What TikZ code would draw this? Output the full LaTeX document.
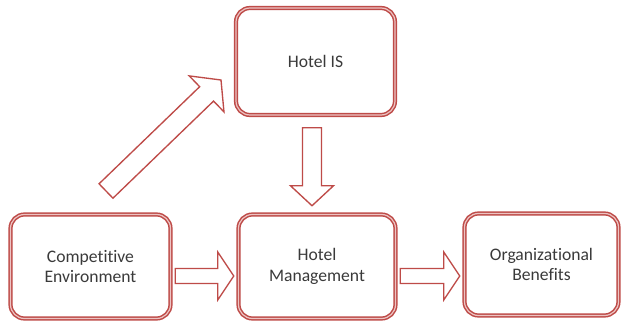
\documentclass[tikz,border=0pt]{standalone}
\usepackage{fontspec}
\setmainfont{Carlito}[Ligatures=NoCommon]
\usetikzlibrary{calc}
\definecolor{boxred}{HTML}{BE4B48}
\definecolor{boxpink}{HTML}{EDC4C3}
\definecolor{labelgray}{HTML}{3A3A3A}
% Block arrow from tail coordinate #1 to tip coordinate #2:
% #3 head length, #4 half shaft width, #5 half head width
\newcommand\blockarrow[5]{%
  \coordinate (#1-hb) at ($(#2)!#3!(#1)$);
  \draw[barrow] ($(#1)!#4!90:(#2)$) -- ($(#1-hb)!#4!-90:(#1)$)
    -- ($(#1-hb)!#5!-90:(#1)$) -- (#2) -- ($(#1-hb)!#5!90:(#1)$)
    -- ($(#1-hb)!#4!90:(#1)$) -- ($(#1)!#4!-90:(#2)$) -- cycle;}
\begin{document}
\begin{tikzpicture}[x=1pt,y=1pt,
  stage/.style={draw=boxred, double=boxpink, line width=1.5pt,
    double distance=1.2pt, rounded corners=14pt, fill=white,
    align=center, text=labelgray, font=\fontsize{17.6}{20.5}\selectfont},
  barrow/.style={draw=boxred, line width=1.35pt, fill=white, line join=miter}]
\useasboundingbox (0,0) rectangle (624,324);

% stages
\node[stage, minimum width=159pt, minimum height=107pt] (is) at (315.5,262.5) {Hotel IS};
\node[stage, minimum width=160pt, minimum height=104pt] (ce) at (90.5,57.5) {Competitive\\Environment};
\node[stage, minimum width=157pt, minimum height=104pt] (hm) at (317,57.5) {Hotel\\Management};
\node[stage, minimum width=154pt, minimum height=102pt] (ob) at (541.5,59.5) {Organizational\\Benefits};

% arrow end points
\coordinate (a1) at ($(ce.east)+(4,-9.5)$);
\coordinate (b1) at ($(hm.west)+(-4,-9.5)$);
\coordinate (a2) at ($(hm.east)+(4,-9.5)$);
\coordinate (b2) at ($(ob.west)+(-4,-11.5)$);
\coordinate (a3) at ($(is.south)+(-3.5,-12)$);
\coordinate (b3) at ($(hm.north)+(-5,8)$);
\coordinate (a4) at (106,133);
\coordinate (b4) at (221,244);

% block arrows
\blockarrow{a1}{b1}{16pt}{7.5pt}{24pt}
\blockarrow{a2}{b2}{16pt}{7.5pt}{24pt}
\blockarrow{a3}{b3}{20pt}{9.5pt}{21.5pt}
\blockarrow{a4}{b4}{20pt}{10pt}{25pt}
\end{tikzpicture}
\end{document}
